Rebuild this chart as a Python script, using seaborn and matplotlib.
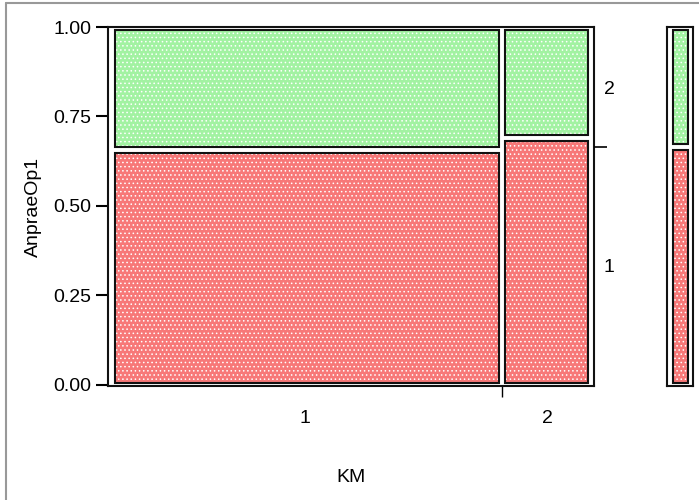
import matplotlib
matplotlib.use("Agg")
import matplotlib.pyplot as plt
from matplotlib.patches import Rectangle
from matplotlib.lines import Line2D
import numpy as np
import seaborn as sns

# Mosaic of AnpraeOp1 within KM
km_levels = ["1", "2"]
km_share = [0.81, 0.19]            # column widths (share of KM)
op_levels = ["1", "2"]
op1_share_by_km = [0.657, 0.690]   # share of AnpraeOp1 = 1 within each KM column
y_ticks = [0.00, 0.25, 0.50, 0.75, 1.00]
y_tick_labels = ["0.00", "0.25", "0.50", "0.75", "1.00"]

sns.set_style("white")
plt.rcParams["font.family"] = ["Liberation Sans", "DejaVu Sans"]
plt.rcParams["hatch.linewidth"] = 0.6
for key in ["text.color", "axes.labelcolor", "xtick.color", "ytick.color"]:
    plt.rcParams[key] = "black"

W, H = 699, 500
fig = plt.figure(figsize=(W / 100, H / 100), dpi=100)

def px_axes(x0, y0, x1, y1):
    return fig.add_axes([x0 / W, 1 - y1 / H, (x1 - x0) / W, (y1 - y0) / H])

red_face = "#f77878"
green_face = "#a2f2a2"
colors = {"1": red_face, "2": green_face}

ylo = -0.004
ax = px_axes(108, 27, 594, 386)
ax.set_xlim(0, 1)
ax.set_ylim(ylo, 1.0)
ax_wpx, ax_hpx = 486, 359
dx = 1 / ax_wpx
dy = (1.0 - ylo) / ax_hpx

def cell(a, x0, x1, y0, y1, color):
    a.add_patch(Rectangle((x0, y0), x1 - x0, y1 - y0, facecolor=color,
                          edgecolor="white", hatch="....", lw=0, zorder=2))
    a.add_patch(Rectangle((x0, y0), x1 - x0, y1 - y0, facecolor="none",
                          edgecolor="#111111", lw=1.5, zorder=3))

edges = np.concatenate([[0], np.cumsum(km_share)])
for i, k in enumerate(km_levels):
    left = edges[i] + (6.5 * dx if i == 0 else 3 * dx)
    right = edges[i + 1] - (6.5 * dx if i == len(km_levels) - 1 else 3 * dx)
    p = op1_share_by_km[i]
    cell(ax, left, right, ylo + 3.5 * dy, p - 3 * dy, colors["1"])
    cell(ax, left, right, p + 3 * dy, 1.0 - 3 * dy, colors["2"])

for s in ax.spines.values():
    s.set_linewidth(1.5)
    s.set_color("#111111")
    s.set_visible(True)

ax.set_yticks(y_ticks)
ax.set_yticklabels(y_tick_labels)
ax.tick_params(axis="y", length=8.5, width=1.5, pad=3.5, labelsize=14, left=True)

centers = [(edges[i] + edges[i + 1]) / 2 for i in range(len(km_levels))]
ax.set_xticks(centers)
ax.set_xticklabels(km_levels)
ax.set_xticks(edges[1:-1], minor=True)
ax.tick_params(axis="x", which="major", length=0, pad=17, labelsize=14)
ax.tick_params(axis="x", which="minor", length=8, width=1.0, bottom=True)

ax.set_xlabel("KM", fontsize=14)
ax.set_ylabel("AnpraeOp1", fontsize=14)
ax.xaxis.set_label_coords(0.5, -0.23)
ax.yaxis.set_label_coords(-0.136, 0.5)

# right-hand axis: overall share of AnpraeOp1 levels
overall = float(np.dot(km_share, op1_share_by_km))
rax = ax.twinx()
rax.set_ylim(ylo, 1.0)
rax.set_yticks([overall / 2, (overall + 1) / 2])
rax.set_yticklabels(op_levels)
rax.set_yticks([overall], minor=True)
rax.tick_params(axis="y", which="major", length=0, pad=7, labelsize=14)
rax.tick_params(axis="y", which="minor", length=9, width=1.2, right=True)
for s in rax.spines.values():
    s.set_visible(False)

# marginal bar for AnpraeOp1
max_ = px_axes(667, 27, 693, 386)
max_.set_xlim(0, 1)
max_.set_ylim(ylo, 1.0)
mdx = 1 / 26
cell(max_, 5.5 * mdx, 1 - 5.5 * mdx, ylo + 3.5 * dy, overall - 3 * dy, colors["1"])
cell(max_, 5.5 * mdx, 1 - 5.5 * mdx, overall + 3 * dy, 1.0 - 3 * dy, colors["2"])
max_.set_xticks([])
max_.set_yticks([])
for s in max_.spines.values():
    s.set_linewidth(1.5)
    s.set_color("#111111")
    s.set_visible(True)

# outer panel frame
fig.add_artist(Line2D([6 / W, 6 / W], [0, 1 - 3 / H], color="#999999", lw=1.5,
                      transform=fig.transFigure))
fig.add_artist(Line2D([6 / W, 1], [1 - 3 / H, 1 - 3 / H], color="#999999", lw=1.5,
                      transform=fig.transFigure))

fig.savefig("out.png", dpi=100)
